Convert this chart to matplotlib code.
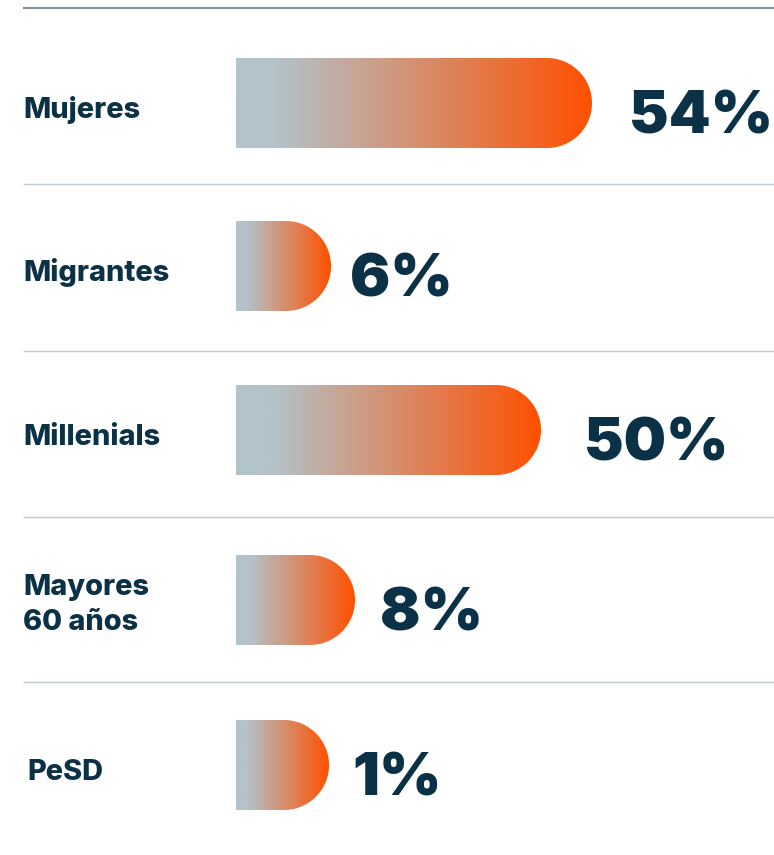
import numpy as np
import matplotlib
matplotlib.use("Agg")
import matplotlib.pyplot as plt
from matplotlib.path import Path
from matplotlib.patches import PathPatch
from matplotlib.colors import LinearSegmentedColormap

# ---- data ----
categories = ["Mujeres", "Migrantes", "Millenials", "Mayores\n60 años", "PeSD"]
values = [54, 6, 50, 8, 1]
value_labels = [f"{v}%" for v in values]
# displayed bar lengths (bars are not proportional)
bar_lengths = [356, 95, 305, 119, 93]

# ---- layout / style ----
W, H = 774, 855
row_centers = [103, 266, 430, 600, 765]
separator_ys = [184, 351, 517, 682]
label_gaps = [37, 19, 43, 25, 23]
label_indent = [0, 0, 0, 0, 4]
bar_x0 = 236
bar_h = 90
label_x = 23
text_color = "#0b3147"
grey = "#b3c3ca"
orange = "#ff5000"

fig = plt.figure(figsize=(W / 100, H / 100), dpi=100)
ax = fig.add_axes([0, 0, 1, 1])
ax.set_xlim(0, W)
ax.set_ylim(H, 0)
ax.axis("off")

cmap = LinearSegmentedColormap.from_list("g", [(0, grey), (0.11, grey), (1, orange)])
grad = np.linspace(0, 1, 512).reshape(1, -1)

# top rule
ax.plot([label_x, W], [8.5, 8.5], color="#7f939c", lw=1.5, solid_capstyle="butt")
# separators between rows
for y in separator_ys:
    ax.plot([label_x, W], [y, y], color="#bccbd1", lw=1.0, solid_capstyle="butt")

def bar_path(x0, length, yc, h):
    r = h / 2
    xe = x0 + length - r
    th = np.linspace(np.pi / 2, -np.pi / 2, 60)
    arc_x = xe + r * np.cos(th)
    arc_y = yc - r * np.sin(th)
    xs = np.concatenate([[x0, xe], arc_x, [x0]])
    ys = np.concatenate([[yc - r, yc - r], arc_y, [yc + r]])
    verts = np.column_stack([xs, ys])
    return Path(np.vstack([verts, verts[:1]]), closed=True)

for cat, lab, L, yc, gap, ind in zip(categories, value_labels, bar_lengths,
                                     row_centers, label_gaps, label_indent):
    p = PathPatch(bar_path(bar_x0, L, yc, bar_h), facecolor="none", edgecolor="none")
    ax.add_patch(p)
    im = ax.imshow(grad, cmap=cmap, aspect="auto",
                   extent=(bar_x0, bar_x0 + L, yc + bar_h / 2, yc - bar_h / 2),
                   interpolation="bilinear")
    im.set_clip_path(p)
    lines = cat.split("\n")
    n = len(lines)
    for i, line in enumerate(lines):
        base = yc + 15 + (i - (n - 1)) * 35 + (n - 1) * 15
        ax.text(label_x + ind, base, line, ha="left", va="baseline", fontsize=20.8,
                fontweight="heavy", color=text_color, family="Inter")
    ax.text(bar_x0 + L + gap, yc + 30, lab, ha="left", va="baseline",
            fontsize=43, fontweight="black", color=text_color, family="Inter")

ax.set_xlim(0, W)
ax.set_ylim(H, 0)
fig.savefig("out.png", dpi=100, facecolor="white")
